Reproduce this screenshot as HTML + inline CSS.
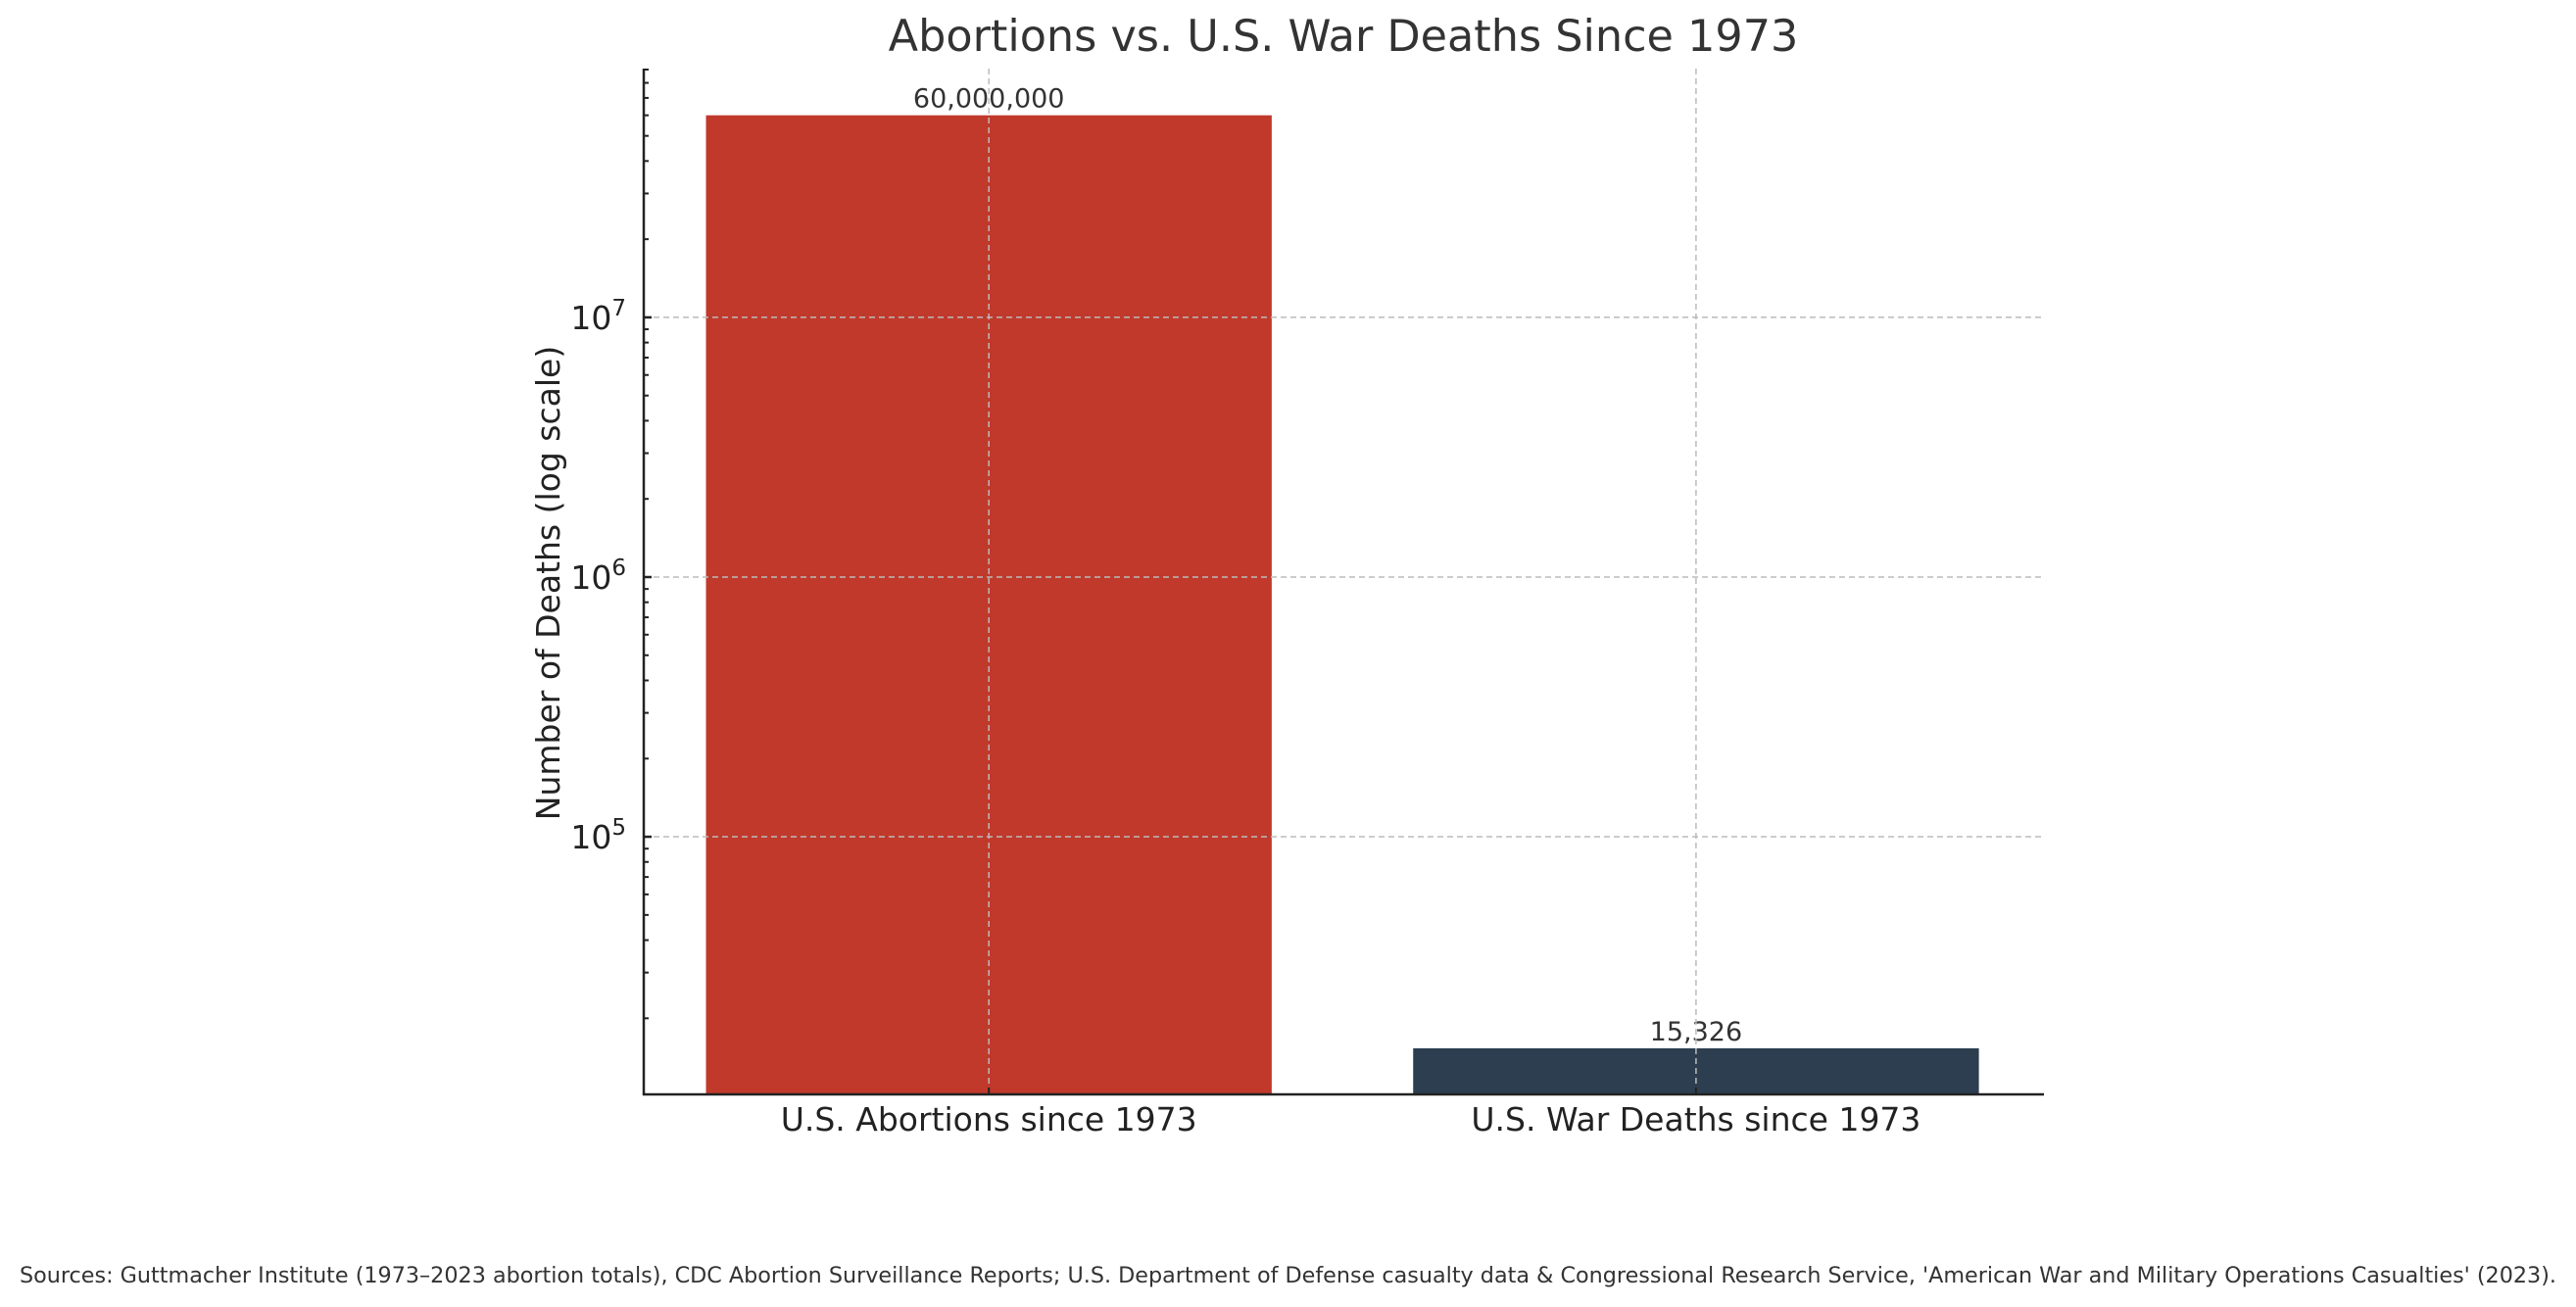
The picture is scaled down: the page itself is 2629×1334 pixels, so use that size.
<!DOCTYPE html>
<html><head><meta charset="utf-8">
<style>
html,body{margin:0;padding:0;background:#fff;}
svg{display:block;font-family:"DejaVu Sans","Liberation Sans",sans-serif;}
</style></head>
<body>
<svg id="chart" width="2629" height="1334" viewBox="0 0 2629 1334">
<rect width="2629" height="1334" fill="#fff"/>
<text x="1371" y="52" text-anchor="middle" font-size="44.5" fill="#333">Abortions vs. U.S. War Deaths Since 1973</text>
<g id="grid"></g>
<g id="bars"></g>
<g id="axes"></g>
<text transform="translate(571,595) rotate(-90)" text-anchor="middle" font-size="33" fill="#222">Number of Deaths (log scale)</text>
<text x="20" y="1309" font-size="22" fill="#333" textLength="2589" lengthAdjust="spacingAndGlyphs">Sources: Guttmacher Institute (1973–2023 abortion totals), CDC Abortion Surveillance Reports; U.S. Department of Defense casualty data &amp; Congressional Research Service, 'American War and Military Operations Casualties' (2023).</text>
</svg>
<script>
const categories = ["U.S. Abortions since 1973", "U.S. War Deaths since 1973"];
const values = [60000000, 15326];
const valueLabels = ["60,000,000", "15,326"];
const barColors = ["#c0392b", "#2c3e50"];
const yTickExps = [5, 6, 7];

const NS = "http://www.w3.org/2000/svg";
const L = 657, R = 2086, T = 70, B = 1117;
const yLogMin = 4.008, yLogMax = 7.958;
const xMin = -0.488, xMax = 1.492;
function y(v){ return B - (Math.log10(v) - yLogMin) / (yLogMax - yLogMin) * (B - T); }
function x(i){ return L + (i - xMin) / (xMax - xMin) * (R - L); }
function mk(tag, attrs, parent){ const e = document.createElementNS(NS, tag); for (const k in attrs) e.setAttribute(k, attrs[k]); parent.appendChild(e); return e; }

const grid = document.getElementById("grid"), barsG = document.getElementById("bars"), axes = document.getElementById("axes");
const bw = 0.8 * (x(1) - x(0));

values.forEach((v, i) => {
  const r = mk("rect", {x: x(i) - bw/2, y: y(v), width: bw, height: B - y(v), fill: barColors[i]}, barsG);
  
  
  const t = mk("text", {x: x(i), y: y(v) - 8, "text-anchor": "middle", "font-size": "27", fill: "#333"}, barsG);
  t.textContent = valueLabels[i];
  
  
  const xl = mk("text", {x: x(i), y: B + 37, "text-anchor": "middle", "font-size": "33", fill: "#222"}, axes);
  xl.textContent = categories[i];
  
  
  const tk = mk("line", {x1: x(i), x2: x(i), y1: B, y2: B - 7, stroke: "#222", "stroke-width": 2}, axes);
  
  
});

values.forEach((v, i) => {
  const g = mk("line", {x1: x(i), x2: x(i), y1: T, y2: B, stroke: "#bbb", "stroke-width": 1.5, "stroke-dasharray": "6,4"}, barsG);
  
  
});

yTickExps.forEach(e => {
  const yy = y(Math.pow(10, e));
  const g = mk("line", {x1: L, x2: R, y1: yy, y2: yy, stroke: "#bbb", "stroke-width": 1.5, "stroke-dasharray": "6,4"}, barsG);
  
  
  const tk = mk("line", {x1: L, x2: L + 8, y1: yy, y2: yy, stroke: "#222", "stroke-width": 2.5}, axes);
  
  
  const t = mk("text", {x: L - 18, y: yy + 12, "text-anchor": "end", "font-size": "33", fill: "#222"}, axes);
  t.textContent = "10";
  const s = mk("tspan", {dy: "-14", "font-size": "23"}, t);
  s.textContent = String(e);
  
  
});

for (let e = 4; e <= 7; e++) {
  for (let m = 2; m <= 9; m++) {
    const v = m * Math.pow(10, e);
    const yy = y(v);
    if (yy < T || yy > B) continue;
    const tk = mk("line", {x1: L, x2: L + 5, y1: yy, y2: yy, stroke: "#222", "stroke-width": 2}, axes);
    
    
  }
}

const ay = mk("line", {x1: L, x2: L, y1: T, y2: B + 1, stroke: "#222", "stroke-width": 2.5}, axes);


const ax = mk("line", {x1: L - 1, x2: R, y1: B, y2: B, stroke: "#222", "stroke-width": 2.5}, axes);


</script>
</body></html>
